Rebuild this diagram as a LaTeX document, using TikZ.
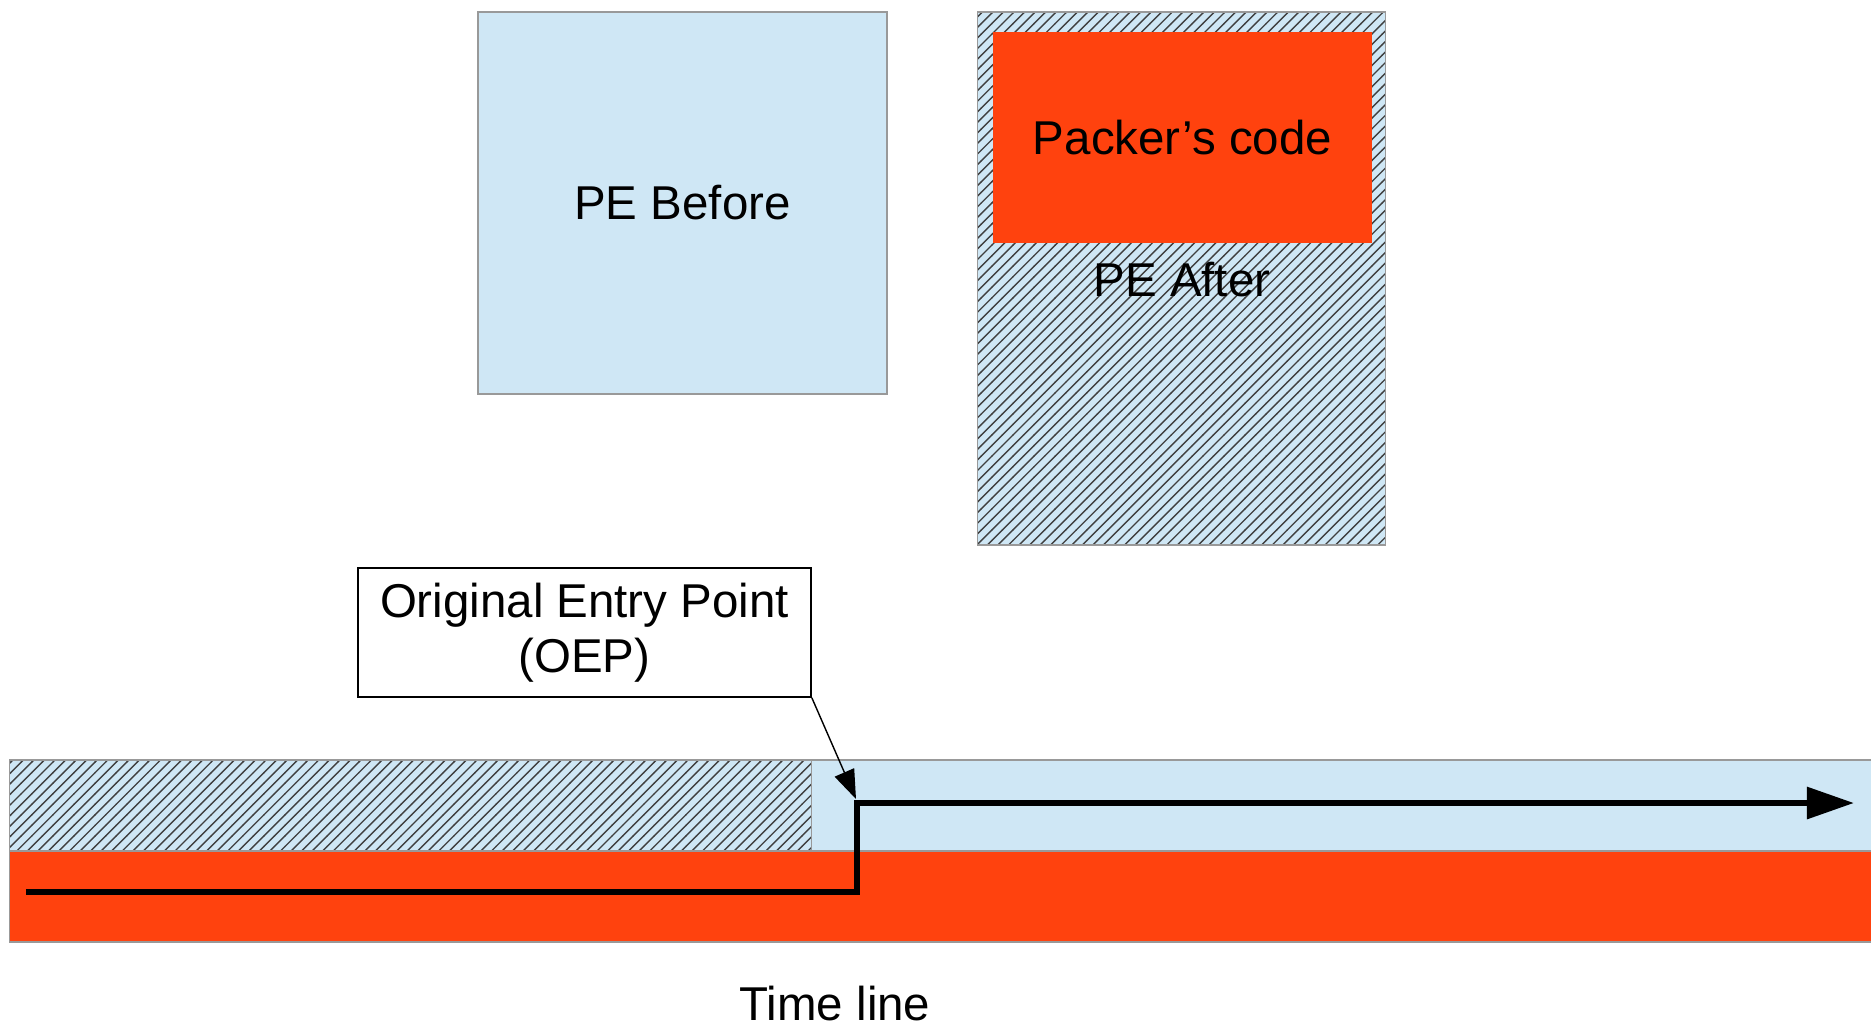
\documentclass[tikz,border=0pt]{standalone}
\usepackage{fontspec}
\setmainfont{Liberation Sans}
\usepackage{tikz}
\usetikzlibrary{positioning,arrows.meta,patterns}
\definecolor{paleblue}{HTML}{CFE7F5}
\definecolor{orangered}{HTML}{FF420E}
\definecolor{edgegray}{HTML}{999999}

\begin{document}
\begin{tikzpicture}[
    x=0.01cm, y=-0.01cm,
    font=\fontsize{13.5}{15.5}\selectfont,
    plain/.style={draw=edgegray, rectangle, fill=paleblue, inner sep=0pt},
    packed/.style={draw=edgegray, rectangle, inner sep=0pt,
                   preaction={fill=paleblue}, pattern=north east lines,
                   pattern color=black!75},
    stub/.style={rectangle, fill=orangered, inner sep=0pt},
    label/.style={draw, rectangle, fill=white, align=center, inner sep=2pt},
    flow/.style={-{Triangle[length=4.7mm,width=3.1mm]}, line width=1.7pt},
    callout/.style={-{Triangle[length=2.9mm,width=2.1mm]}, thin},
]
\useasboundingbox (0,0) rectangle (1871,1026);

% the two images
\node[plain, minimum width=4.09cm, minimum height=3.82cm] (before) at (682.5,203) {PE Before};
\node[packed, minimum width=4.08cm, minimum height=5.33cm] (after) at (1181.5,278.5) {};
\node[stub, minimum width=3.79cm, minimum height=2.11cm] (packer) at (1182.5,137.5) {Packer’s code};
\node (aftertxt) at (1182,280) {PE After};

% time line
\node[packed, minimum width=8.02cm, minimum height=0.91cm] (unpack) at (411,805.5) {};
\node[plain, minimum width=10.59cm, minimum height=0.91cm] (orig) at (1341.5,805.5) {};
\node[stub, draw=edgegray, minimum width=18.61cm, minimum height=0.91cm] (stubrun) at (940.5,896.5) {};
\node (timetxt) at (835,1004) {Time line};

\node[label, minimum width=4.53cm, minimum height=1.29cm] (oepbox) at (584.5,632.5) {Original Entry Point\\(OEP)};

\coordinate (start) at (26,892);
\coordinate (jump) at (857,892);
\coordinate (oep) at (857,803);
\coordinate (stop) at (1854,803);
\coordinate (oeptip) at (856,799);

\draw[flow] (start) -- (jump) -- (oep) -- (stop);
\draw[callout] (oepbox.south east) -- (oeptip);
\end{tikzpicture}
\end{document}
